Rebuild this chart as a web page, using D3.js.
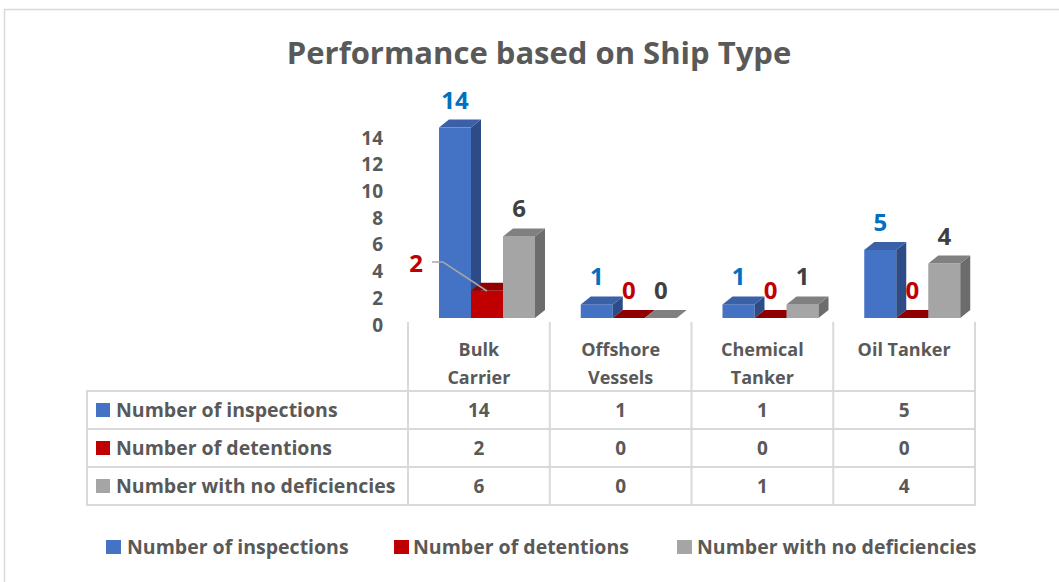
<!DOCTYPE html>
<html>
<head>
<meta charset="utf-8">
<script src="https://cdn.jsdelivr.net/npm/d3@7"></script>
<style>
    body { margin: 0; background: #fff; }
    svg text { font-family: "Open Sans", Lato, sans-serif; font-weight: bold; }
</style>
</head>
<body>
<div class="chart"></div>
<script>
// data
var categories = ['Bulk Carrier', 'Offshore Vessels', 'Chemical Tanker', 'Oil Tanker'];
var categoryLines = [['Bulk', 'Carrier'], ['Offshore', 'Vessels'], ['Chemical', 'Tanker'], ['Oil Tanker']];
var seriesNames = ['Number of inspections', 'Number of detentions', 'Number with no deficiencies'];
var inspections = [14, 1, 1, 5];
var detentions = [2, 0, 0, 0];
var noDeficiencies = [6, 0, 1, 4];
var yTicks = [0, 2, 4, 6, 8, 10, 12, 14];

var seriesValues = [inspections, detentions, noDeficiencies];

var colors = [
    {front: '#4472c4', top: '#3a61a8', side: '#2d4c87', label: '#0070c0'},
    {front: '#c00000', top: '#900000', side: '#840000', label: '#c00000'},
    {front: '#a5a5a5', top: '#808080', side: '#6c6c6c', label: '#404040'}
];

var width = 1059, height = 582;
var textColor = '#595959';
var gridColor = '#d9d9d9';

var svg = d3.select('.chart').append('svg')
    .attr('width', width)
    .attr('height', height);

// chart area border
svg.append('rect')
    .attr('x', 4.5).attr('y', 9.5)
    .attr('width', width + 10).attr('height', height + 10)
    .attr('fill', 'white')
    .attr('stroke', gridColor)
    .attr('stroke-width', 1.5);

svg.append('text')
    .attr('x', 539).attr('y', 64)
    .attr('text-anchor', 'middle')
    .style('font-size', '31px')
    .style('fill', textColor)
    .text('Performance based on Ship Type');

var tableLeft = 87, plotLeft = 408, plotRight = 975;
var baseY = 318;
var depthX = 10, depthY = 8;

var x0 = d3.scaleBand().domain(categories).range([plotLeft, plotRight]);
var x1 = d3.scaleBand().domain(seriesNames).range([31, 127]);
var y = d3.scaleLinear().domain([0, 14]).range([baseY, baseY - 14 * 13.6]);
// axis labels sit on the back wall, slightly off the front scale
var yAxisScale = d3.scaleLinear().domain([0, 14]).range([325, 138]);

var yAxis = svg.append('g')
    .attr('transform', 'translate(387,0)')
    .call(d3.axisLeft(yAxisScale).tickValues(yTicks).tickSize(0).tickPadding(4));
yAxis.select('.domain').remove();
yAxis.selectAll('text')
    .style('font-size', '19px')
    .style('font-family', '"Open Sans", Lato, sans-serif')
    .style('fill', textColor);

// 3D bars, drawn left to right so fronts cover the sides of neighbours
var bars = svg.append('g');
categories.forEach(function (cat, ci) {
    seriesNames.forEach(function (name, si) {
        var v = seriesValues[si][ci];
        var c = colors[si];
        var bx = x0(cat) + x1(name);
        var bw = x1.bandwidth();
        var yt = y(v);

        if (v > 0) {
            bars.append('rect')
                .attr('x', bx).attr('y', yt)
                .attr('width', bw).attr('height', baseY - yt)
                .attr('fill', c.front);
            bars.append('polygon')
                .attr('points', [[bx + bw, yt], [bx + bw + depthX, yt - depthY], [bx + bw + depthX, baseY - depthY], [bx + bw, baseY]].join(' '))
                .attr('fill', c.side);
        }
        bars.append('polygon')
            .attr('points', [[bx, yt], [bx + depthX, yt - depthY], [bx + bw + depthX, yt - depthY], [bx + bw, yt]].join(' '))
            .attr('fill', c.top);
    });
});

// data labels
categories.forEach(function (cat, ci) {
    seriesNames.forEach(function (name, si) {
        var v = seriesValues[si][ci];
        var lx = x0(cat) + x1(name) + x1.bandwidth() / 2;
        var ly = y(v) - 19;
        // the small red bar in the first group has its label moved out with a leader line
        if (ci === 0 && si === 1) {
            lx = 416;
            ly = 272;
            svg.append('polyline')
                .attr('points', '432,262 443,262 487,291')
                .attr('fill', 'none')
                .attr('stroke', '#a6a6a6')
                .attr('stroke-width', 1.5);
        }
        svg.append('text')
            .attr('x', lx).attr('y', ly)
            .attr('text-anchor', 'middle')
            .style('font-size', '24px')
            .style('fill', colors[si].label)
            .text(v);
    });
});

// data table under the plot
var headerTop = 322, tableTop = 391, rowH = 38;
var grid = svg.append('g')
    .attr('stroke', gridColor)
    .attr('stroke-width', 2)
    .attr('fill', 'none');

var colEdges = [plotLeft].concat(categories.map(function (c) { return x0(c) + x0.bandwidth(); }));
colEdges.forEach(function (cx) {
    grid.append('line')
        .attr('x1', cx).attr('x2', cx)
        .attr('y1', headerTop).attr('y2', tableTop + rowH * 3);
});
grid.append('rect')
    .attr('x', tableLeft).attr('y', tableTop)
    .attr('width', plotRight - tableLeft).attr('height', rowH * 3);
[1, 2].forEach(function (r) {
    grid.append('line')
        .attr('x1', tableLeft).attr('x2', plotRight)
        .attr('y1', tableTop + r * rowH).attr('y2', tableTop + r * rowH);
});

categories.forEach(function (cat, ci) {
    var t = svg.append('text')
        .attr('x', x0(cat) + x0.bandwidth() / 2)
        .attr('y', 356)
        .attr('text-anchor', 'middle')
        .style('font-size', '18px')
        .style('fill', textColor);
    categoryLines[ci].forEach(function (line, li) {
        t.append('tspan')
            .attr('x', x0(cat) + x0.bandwidth() / 2)
            .attr('dy', li === 0 ? 0 : 28)
            .text(line);
    });
});

seriesNames.forEach(function (name, si) {
    var cy = tableTop + si * rowH + rowH / 2;
    svg.append('rect')
        .attr('x', 96).attr('y', cy - 7)
        .attr('width', 14).attr('height', 14)
        .attr('fill', colors[si].front);
    svg.append('text')
        .attr('x', 116).attr('y', cy + 7)
        .style('font-size', '19.5px')
        .style('fill', textColor)
        .text(name);
    categories.forEach(function (cat, ci) {
        svg.append('text')
            .attr('x', x0(cat) + x0.bandwidth() / 2)
            .attr('y', cy + 7)
            .attr('text-anchor', 'middle')
            .style('font-size', '19px')
            .style('fill', textColor)
            .text(seriesValues[si][ci]);
    });
});

// legend
var legendX = [106, 394, 677];
var legendTextX = [127, 413, 697];
seriesNames.forEach(function (name, si) {
    svg.append('rect')
        .attr('x', legendX[si]).attr('y', 540)
        .attr('width', 15).attr('height', 14)
        .attr('fill', colors[si].front);
    svg.append('text')
        .attr('x', legendTextX[si]).attr('y', 554)
        .style('font-size', '19.5px')
        .style('fill', textColor)
        .text(name);
});
</script>
</body>
</html>
